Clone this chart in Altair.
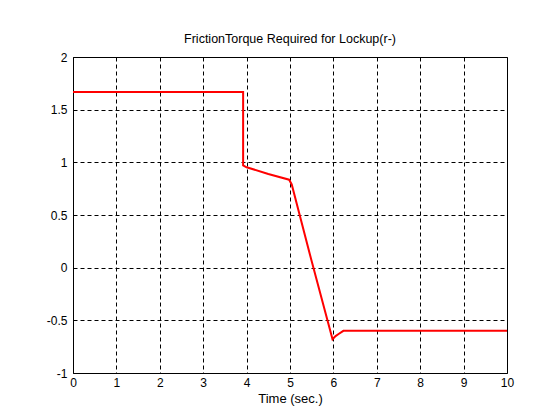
import altair as alt
import pandas as pd

t = [0, 3.92, 3.92, 4.0, 4.5, 4.98, 5.04, 5.5, 5.98, 6.05, 6.12, 6.23, 10]
torque = [1.667, 1.667, 0.97, 0.953, 0.89, 0.835, 0.79, 0.06, -0.68, -0.65, -0.63, -0.60, -0.60]
x_ticks = [0, 1, 2, 3, 4, 5, 6, 7, 8, 9, 10]
y_ticks = [-1, -0.5, 0, 0.5, 1, 1.5, 2]

df = pd.DataFrame({"t": t, "v": torque, "i": list(range(len(t)))})

font = "Liberation Sans"

chart = alt.Chart(df).mark_line(color="#ff0000", strokeWidth=2, clip=True).encode(
    x=alt.X("t:Q", scale=alt.Scale(domain=[0, 10], nice=False),
            axis=alt.Axis(values=x_ticks, title="Time (sec.)", labelExpr="toString(datum.value)",
                          labelFlush=False, labelOverlap=False)),
    y=alt.Y("v:Q", scale=alt.Scale(domain=[-1, 2], nice=False),
            axis=alt.Axis(values=y_ticks, title=None, labelExpr="toString(datum.value)",
                          labelFlush=False, labelOverlap=False)),
    order="i:Q",
).properties(
    width=434, height=316,
    title=alt.TitleParams("FrictionTorque Required for Lockup(r-)", fontSize=12.5, fontWeight="normal",
                          font=font, color="black", offset=6),
    autosize=alt.AutoSizeParams(type="none"),
    padding={"left": 65, "top": 49, "right": 45, "bottom": 39},
).configure_view(
    stroke="black", strokeWidth=1
).configure_axis(
    grid=True, gridColor="black", gridDash=[4, 3], gridWidth=1, gridOpacity=1,
    domain=False, ticks=False,
    labelFont=font, labelFontSize=12, labelColor="black",
    titleFont=font, titleFontSize=13, titleColor="black", titleFontWeight="normal",
).configure_axisX(
    labelPadding=4, titlePadding=4
).configure_axisY(
    labelPadding=6
)

chart.save("out.html", embed_options={"renderer": "svg", "actions": False})
